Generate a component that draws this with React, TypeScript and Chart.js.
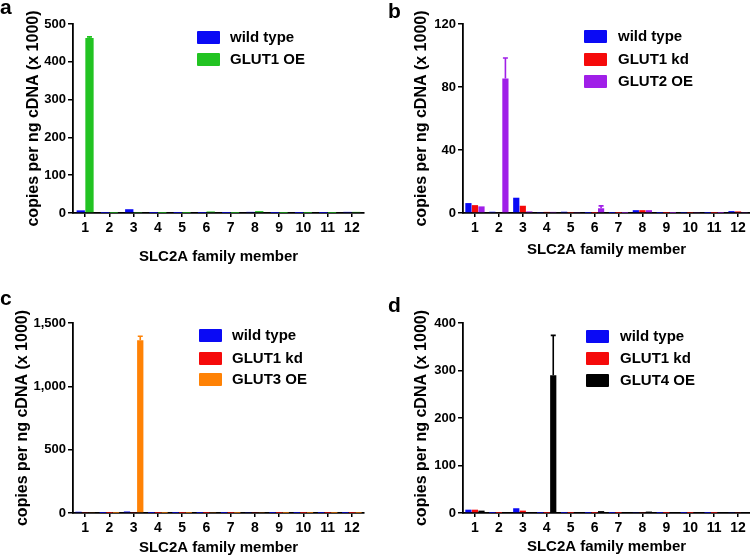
import React, { useEffect, useRef } from "react";
import { Chart, registerables } from "chart.js";

Chart.register(...registerables);
Chart.defaults.font.family = '"Liberation Sans", Arial, sans-serif';

// ---------- data ----------
const categories = ["1", "2", "3", "4", "5", "6", "7", "8", "9", "10", "11", "12"];

// Panel a
const aWildType = [7, 0.3, 10, 0.2, 0.2, 0.3, 0.2, 3, 0.2, 0.2, 0.2, 3];
const aGlut1OE = [463, 0.3, 1, 0.2, 0.2, 4, 0.2, 5, 0.2, 0.2, 0.2, 3];
const aGlut1OEErr = [3, 0, 0, 0, 0, 0, 0, 0, 0, 0, 0, 0];
const aTicks = [0, 100, 200, 300, 400, 500];

// Panel b
const bWildType = [6.3, 0.8, 9.7, 0.3, 0.8, 0.1, 0.1, 1.8, 0.1, 0.2, 0.1, 1.2];
const bGlut1Kd = [5, 0.5, 4.6, 0.7, 0.2, 0.1, 0.1, 1.8, 0.1, 0.2, 0.1, 1];
const bGlut2OE = [4.2, 85.4, 1, 0.7, 0.6, 3, 0.1, 1.8, 0.1, 0.6, 0.1, 0.6];
const bGlut2OEErr = [0, 13, 0, 0, 0, 1.5, 0, 0, 0, 0, 0, 0];
const bTicks = [0, 40, 80, 120];

// Panel c
const cWildType = [10, 0.5, 12, 0.5, 0.5, 0.5, 0.5, 8, 0.5, 0.5, 0.5, 0.5];
const cGlut1Kd = [8, 0.5, 8, 0.5, 0.5, 0.5, 0.5, 8, 0.5, 0.5, 0.5, 0.5];
const cGlut3OE = [7, 0.5, 1363, 0.5, 0.5, 8, 0.5, 8, 0.5, 0.5, 0.5, 0.5];
const cGlut3OEErr = [0, 0, 32, 0, 0, 0, 0, 0, 0, 0, 0, 0];
const cTicks = [0, 500, 1000, 1500];

// Panel d
const dWildType = [7, 0.2, 10, 0.2, 0.2, 0.2, 0.2, 2, 0.2, 0.2, 0.2, 2];
const dGlut1Kd = [7, 0.2, 5, 0.2, 0.2, 0.2, 0.2, 2, 0.2, 0.2, 0.2, 2];
const dGlut4OE = [5, 0.2, 2, 290, 0.2, 4, 0.2, 3, 0.2, 0.2, 0.2, 2];
const dGlut4OEErr = [0, 0, 0, 84, 0, 0, 0, 0, 0, 0, 0, 0];
const dTicks = [0, 100, 200, 300, 400];

const BLUE = "#0a0af5";
const RED = "#f50a0a";
const GREEN = "#22c322";
const PURPLE = "#a01fe8";
const ORANGE = "#ff8205";
const BLACK = "#000000";

const Y_TITLE = "copies per ng cDNA (x 1000)";
const X_TITLE = "SLC2A family member";
const FONT = '"Liberation Sans", Arial, sans-serif';

type Series = { label: string; data: number[]; color: string; errors?: number[] };

type PanelCfg = {
  letter: string;
  left: number;
  top: number;
  letterX: number;
  letterY: number;
  chartLeft: number;
  chartRight: number;
  chartTop: number;
  chartBottom: number;
  yTitlePad: number;
  xTitlePad: number;
  ticks: number[];
  catPct: number;
  series: Series[];
  legendBoxX: number;
  legendTextX: number;
  legendRows: number[];
};

const panels: PanelCfg[] = [
  {
    letter: "a", left: 0, top: 0, letterX: 0, letterY: -3,
    chartLeft: 73, chartRight: 364, chartTop: 24, chartBottom: 213,
    yTitlePad: 24, xTitlePad: 14, ticks: aTicks, catPct: 0.72,
    series: [
      { label: "wild type", data: aWildType, color: BLUE },
      { label: "GLUT1 OE", data: aGlut1OE, color: GREEN, errors: aGlut1OEErr },
    ],
    legendBoxX: 197, legendTextX: 230, legendRows: [37, 59],
  },
  {
    letter: "b", left: 375, top: 0, letterX: 13, letterY: 1,
    chartLeft: 88, chartRight: 375, chartTop: 24, chartBottom: 213,
    yTitlePad: 37, xTitlePad: 21, ticks: bTicks, catPct: 0.82,
    series: [
      { label: "wild type", data: bWildType, color: BLUE },
      { label: "GLUT1 kd", data: bGlut1Kd, color: RED },
      { label: "GLUT2 OE", data: bGlut2OE, color: PURPLE, errors: bGlut2OEErr },
    ],
    legendBoxX: 209, legendTextX: 243, legendRows: [36, 59, 81],
  },
  {
    letter: "c", left: 0, top: 280, letterX: 0, letterY: 8,
    chartLeft: 73, chartRight: 364, chartTop: 43, chartBottom: 233,
    yTitlePad: 13, xTitlePad: 3, ticks: cTicks, catPct: 0.82,
    series: [
      { label: "wild type", data: cWildType, color: BLUE },
      { label: "GLUT1 kd", data: cGlut1Kd, color: RED },
      { label: "GLUT3 OE", data: cGlut3OE, color: ORANGE, errors: cGlut3OEErr },
    ],
    legendBoxX: 199, legendTextX: 232, legendRows: [55, 78, 99],
  },
  {
    letter: "d", left: 375, top: 280, letterX: 13, letterY: 15,
    chartLeft: 88, chartRight: 375, chartTop: 43, chartBottom: 233,
    yTitlePad: 37, xTitlePad: 4, ticks: dTicks, catPct: 0.82,
    series: [
      { label: "wild type", data: dWildType, color: BLUE },
      { label: "GLUT1 kd", data: dGlut1Kd, color: RED },
      { label: "GLUT4 OE", data: dGlut4OE, color: BLACK, errors: dGlut4OEErr },
    ],
    legendBoxX: 211, legendTextX: 245, legendRows: [56, 78, 100],
  },
];

const errorBarPlugin = {
  id: "errorBars",
  afterDatasetsDraw(chart: any) {
    const ctx = chart.ctx;
    const yScale = chart.scales.y;
    chart.data.datasets.forEach((ds: any, di: number) => {
      const errs: number[] | undefined = ds.errors;
      if (!errs) return;
      const meta = chart.getDatasetMeta(di);
      meta.data.forEach((bar: any, i: number) => {
        const e = errs[i];
        if (!e) return;
        const v = ds.data[i];
        const x = bar.x;
        const yTop = yScale.getPixelForValue(v + e);
        ctx.save();
        ctx.strokeStyle = ds.backgroundColor;
        ctx.lineWidth = 1.6;
        ctx.beginPath();
        ctx.moveTo(x, bar.y);
        ctx.lineTo(x, yTop);
        ctx.moveTo(x - 2.5, yTop);
        ctx.lineTo(x + 2.5, yTop);
        ctx.stroke();
        ctx.restore();
      });
    });
  },
};

function Panel({ cfg }: { cfg: PanelCfg }) {
  const ref = useRef<HTMLCanvasElement | null>(null);
  useEffect(() => {
    if (!ref.current) return;
    const W = 375;
    const H = 280;
    const chart = new Chart(ref.current, {
      type: "bar",
      data: {
        labels: categories,
        datasets: cfg.series.map((s) => ({
          label: s.label,
          data: s.data,
          backgroundColor: s.color,
          borderWidth: 0,
          errors: s.errors,
          categoryPercentage: cfg.catPct,
          barPercentage: 0.95,
        })) as any,
      },
      options: {
        animation: false,
        responsive: false,
        layout: {
          padding: { left: 0, top: cfg.chartTop, right: W - cfg.chartRight, bottom: 0 },
        },
        plugins: { legend: { display: false }, tooltip: { enabled: false } },
        scales: {
          x: {
            offset: true,
            grid: { display: true, drawOnChartArea: false, drawTicks: true, tickLength: 4, color: "#000", offset: false, lineWidth: 1.5 },
            border: { display: true, color: "#000", width: 1.8 },
            ticks: { color: "#000", font: { size: 14, weight: "bold", family: FONT }, padding: 3, autoSkip: false, maxRotation: 0 },
            title: { display: true, text: X_TITLE, color: "#000", font: { size: 15, weight: "bold", family: FONT }, padding: { top: 0, bottom: cfg.xTitlePad } },
            afterFit: (s: any) => { s.height = H - cfg.chartBottom; },
          },
          y: {
            min: cfg.ticks[0],
            max: cfg.ticks[cfg.ticks.length - 1],
            afterBuildTicks: (s: any) => { s.ticks = cfg.ticks.map((v) => ({ value: v })); },
            grid: { display: true, drawOnChartArea: false, drawTicks: true, tickLength: 5, color: "#000", lineWidth: 1.5 },
            border: { display: true, color: "#000", width: 1.8 },
            ticks: { color: "#000", font: { size: 13, weight: "bold", family: FONT }, padding: 2 },
            title: { display: true, text: Y_TITLE, color: "#000", font: { size: 16, weight: "bold", family: FONT }, padding: { top: cfg.yTitlePad, bottom: 0 } },
            afterFit: (s: any) => { s.width = cfg.chartLeft; },
          },
        },
      } as any,
      plugins: [errorBarPlugin],
    });
    return () => chart.destroy();
  }, [cfg]);

  return (
    <div style={{ position: "absolute", left: cfg.left, top: cfg.top, width: 375, height: 280 }}>
      <canvas ref={ref} width={375} height={280} style={{ position: "absolute", left: 0, top: 0 }} />
      <div style={{ position: "absolute", left: cfg.letterX, top: cfg.letterY, font: `bold 21px ${FONT}`, lineHeight: "20px", color: "#000" }}>
        {cfg.letter}
      </div>
      {cfg.series.map((s, i) => (
        <React.Fragment key={s.label}>
          <div style={{ position: "absolute", left: cfg.legendBoxX, top: cfg.legendRows[i] - 6.5, width: 23, height: 13, background: s.color, borderRadius: 1 }} />
          <div style={{ position: "absolute", left: cfg.legendTextX, top: cfg.legendRows[i] - 9, font: `bold 15px ${FONT}`, lineHeight: "18px", color: "#000", whiteSpace: "nowrap" }}>
            {s.label}
          </div>
        </React.Fragment>
      ))}
    </div>
  );
}

export default function App() {
  return (
    <div style={{ position: "absolute", left: 0, top: 0, width: 750, height: 560, background: "#fff", overflow: "hidden" }}>
      {panels.map((p) => (
        <Panel key={p.letter} cfg={p} />
      ))}
    </div>
  );
}
